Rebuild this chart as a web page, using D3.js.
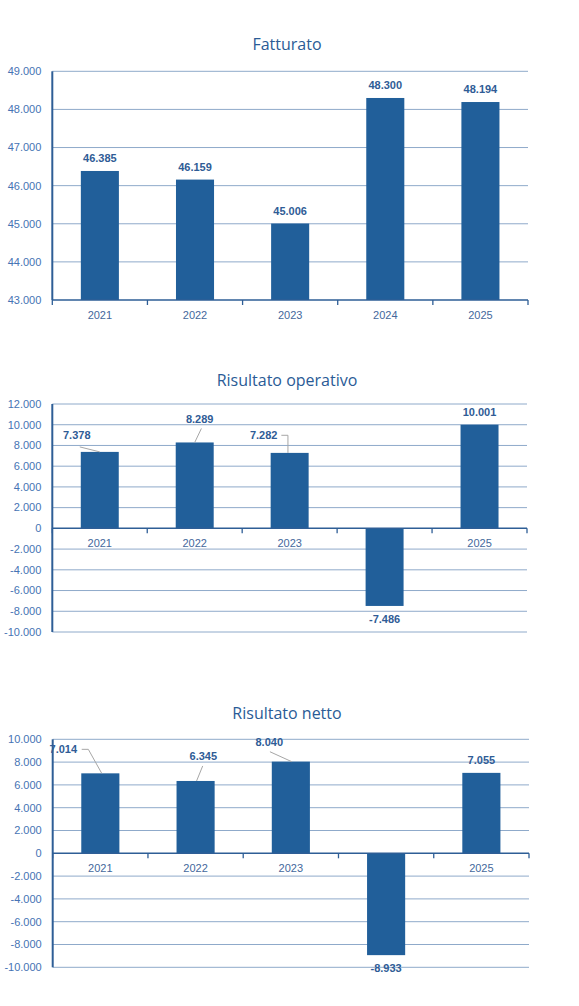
<!DOCTYPE html>
<html><head><meta charset="utf-8">
<script src="https://cdn.jsdelivr.net/npm/d3@7"></script>
<style>html,body{margin:0;padding:0;background:#fff;} svg{display:block}</style>
</head><body><svg id="c" width="579" height="1006"></svg>
<script>
// ---- data ----
const categories = ["2021", "2022", "2023", "2024", "2025"];
const fatturato = [46385, 46159, 45006, 48300, 48194];
const risultatoOperativo = [7378, 8289, 7282, -7486, 10001];
const risultatoNetto = [7014, 6345, 8040, -8933, 7055];
const fatturatoTicks = [43000, 44000, 45000, 46000, 47000, 48000, 49000];
const operativoTicks = [-10000, -8000, -6000, -4000, -2000, 0, 2000, 4000, 6000, 8000, 10000, 12000];
const nettoTicks = [-10000, -8000, -6000, -4000, -2000, 0, 2000, 4000, 6000, 8000, 10000];
const titles = ["Fatturato", "Risultato operativo", "Risultato netto"];

// ---- layout (manually moved data labels with leader lines) ----
const fatturatoLabelLayout = [null, null, null, null, null];
const operativoLabelLayout = [
  {dx: -23, dy: -16.5, leader: [[3, 11.5]], ex: 0},
  {dx: 5, dy: -23, leader: [[1.7, 9]], ex: 0},
  {dx: -26, dy: -17.6, leader: [[17.7, 0], [24.3, 0]], ex: -1.5, vertical: true},
  null, null
];
const nettoLabelLayout = [
  {dx: -37, dy: -24, leader: [[18.4, 0], [25, 0]], ex: 1.4},
  {dx: 7.7, dy: -25, leader: [[-0.6, 10]], ex: 1},
  {dx: -21.6, dy: -19.3, leader: [[0.7, 9.4]], ex: 0.8},
  null, null
];

const fmt = d3.formatLocale({decimal: ",", thousands: ".", grouping: [3], currency: ["€", ""], minus: "-"}).format(",d");

const C = {
  bar: "#215F9A", grid: "#8FAACA", axis: "#2E5E96", title: "#2A5B96",
  ytick: "#4673B4", xtick: "#44689C", label: "#2F5C96", leader: "#A6A6A6"
};

const charts = [
  {title: titles[0], values: fatturato, ticks: fatturatoTicks, domain: [43000, 49000],
   box: {left: 52.3, right: 528, top: 71.3, bottom: 300}, titleY: 44, layout: fatturatoLabelLayout},
  {title: titles[1], values: risultatoOperativo, ticks: operativoTicks, domain: [-10000, 12000],
   box: {left: 52.3, right: 527, top: 404, bottom: 632}, titleY: 380, layout: operativoLabelLayout},
  {title: titles[2], values: risultatoNetto, ticks: nettoTicks, domain: [-10000, 10000],
   box: {left: 52.7, right: 529, top: 739.3, bottom: 967.3}, titleY: 713, layout: nettoLabelLayout}
];

const svg = d3.select("#c");
svg.append("rect").attr("width", 579).attr("height", 1006).attr("fill", "#fff");

charts.forEach(ch => {
  const g = svg.append("g");
  const b = ch.box;
  const x = d3.scaleBand().domain(categories).range([b.left, b.right]).paddingInner(0.6).paddingOuter(0.3);
  const y = d3.scaleLinear().domain(ch.domain).range([b.bottom, b.top]);
  const base = ch.domain[0] > 0 ? ch.domain[0] : 0;
  const y0 = y(base);

  g.append("text").attr("x", 287).attr("y", ch.titleY).attr("dy", "0.35em")
    .attr("text-anchor", "middle").attr("fill", C.title)
    .style("font-family", "'Open Sans', sans-serif").style("font-size", "16px")
    .text(ch.title);

  // gridlines
  g.selectAll("line.grid").data(ch.ticks.filter(t => t !== base)).enter().append("line")
    .attr("x1", b.left).attr("x2", b.right)
    .attr("y1", d => y(d)).attr("y2", d => y(d))
    .attr("stroke", C.grid).attr("stroke-width", 1);

  // y tick labels
  g.selectAll("text.yt").data(ch.ticks).enter().append("text")
    .attr("x", b.left - 11).attr("y", d => y(d)).attr("dy", "0.35em")
    .attr("text-anchor", "end").attr("fill", C.ytick)
    .style("font-family", "'Liberation Sans', Arial, sans-serif").style("font-size", "11px")
    .text(d => fmt(d));

  // category labels (drawn under the bars, as in the original)
  g.selectAll("text.xl").data(categories).enter().append("text")
    .attr("x", d => x(d) + x.bandwidth() / 2).attr("y", y0 + 15).attr("dy", "0.35em")
    .attr("text-anchor", "middle").attr("fill", C.xtick)
    .style("font-family", "'Liberation Sans', Arial, sans-serif").style("font-size", "11px")
    .text(d => d);

  // bars
  g.selectAll("rect.bar").data(ch.values).enter().append("rect")
    .attr("x", (d, i) => x(categories[i]))
    .attr("width", x.bandwidth())
    .attr("y", d => Math.min(y(d), y0))
    .attr("height", d => Math.abs(y(d) - y0))
    .attr("fill", C.bar);

  // x axis line and ticks
  g.append("line").attr("x1", b.left).attr("x2", b.right).attr("y1", y0).attr("y2", y0)
    .attr("stroke", C.axis).attr("stroke-width", 1.5);
  const bounds = d3.range(categories.length + 1).map(i => b.left + i * x.step());
  g.selectAll("line.xt").data(bounds).enter().append("line")
    .attr("x1", d => d).attr("x2", d => d).attr("y1", y0).attr("y2", y0 + 5)
    .attr("stroke", C.axis).attr("stroke-width", 1.3);

  // data labels + leaders
  ch.values.forEach((v, i) => {
    const cx = x(categories[i]) + x.bandwidth() / 2;
    const yEnd = y(v);
    const pos = v >= base;
    const L = ch.layout[i];
    let lx = cx, ly = pos ? yEnd - 12.5 : yEnd + 13;
    if (L) {
      lx = cx + L.dx; ly = yEnd + L.dy;
      const pts = L.leader.map(p => [lx + p[0], ly + p[1]]);
      const last = pts[pts.length - 1];
      pts.push(L.vertical ? [last[0], yEnd] : [cx + L.ex, yEnd]);
      g.append("path").attr("d", d3.line()(pts)).attr("fill", "none")
        .attr("stroke", C.leader).attr("stroke-width", 1);
    }
    g.append("text").attr("x", lx).attr("y", ly).attr("dy", "0.35em")
      .attr("text-anchor", "middle").attr("fill", C.label)
      .style("font-family", "'Liberation Sans', Arial, sans-serif").style("font-size", "11px")
      .style("font-weight", "bold")
      .text(fmt(v));
  });

  // left axis line (on top)
  g.append("line").attr("x1", b.left).attr("x2", b.left).attr("y1", b.top).attr("y2", b.bottom)
    .attr("stroke", C.axis).attr("stroke-width", 2);
});
</script>
</body></html>
